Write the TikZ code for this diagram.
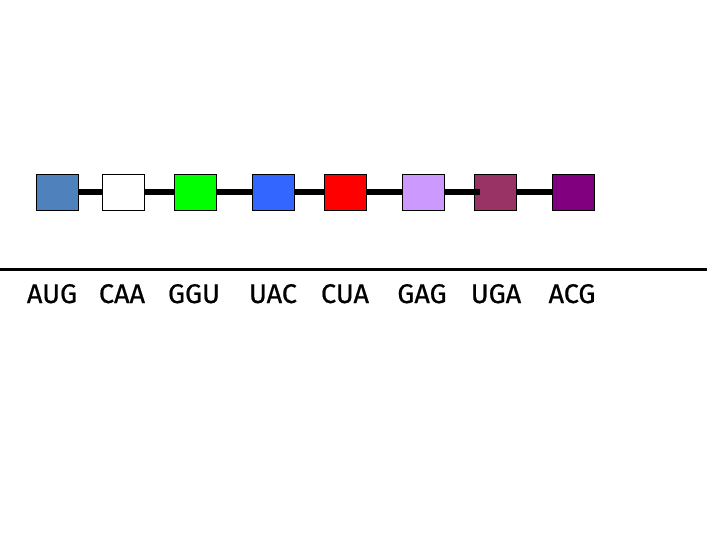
\documentclass[tikz,border=0pt]{standalone}
\usepackage{fontspec}
\setmainfont{Fira Sans}
\newfontfamily\codonfont[FakeBold=0.7]{Fira Sans}
\usepackage{tikz}
\usetikzlibrary{positioning, calc}
\usepackage{xcolor}
\definecolor{aaSteel}{RGB}{79,129,189}
\definecolor{aaGreen}{RGB}{0,255,0}
\definecolor{aaBlue}{RGB}{51,102,255}
\definecolor{aaRed}{RGB}{255,0,0}
\definecolor{aaLilac}{RGB}{204,153,255}
\definecolor{aaPlum}{RGB}{153,51,102}
\definecolor{aaPurple}{RGB}{128,0,128}

\begin{document}
\begin{tikzpicture}[x=1pt, y=-1pt,
    aminoacid/.style={rectangle, draw=black, line width=0.8pt, minimum width=42pt, minimum height=36pt, inner sep=0pt},
    peptide/.style={line width=6pt, black},
    codon/.style={anchor=base, inner sep=0pt, font=\codonfont\fontsize{27}{30}\selectfont}]
  \useasboundingbox (0,0) rectangle (720,540);

  \node[aminoacid, fill=aaSteel] (aa1) at (57.5,192.5) {};
  \node[aminoacid, fill=white] (aa2) at (123.5,192.5) {};
  \node[aminoacid, fill=aaGreen] (aa3) at (195.5,192.5) {};
  \node[aminoacid, fill=aaBlue] (aa4) at (273.5,192.5) {};
  \node[aminoacid, fill=aaRed] (aa5) at (345.5,192.5) {};
  \node[aminoacid, fill=aaLilac] (aa6) at (423.5,192.5) {};
  \node[aminoacid, fill=aaPlum] (aa7) at (495.5,192.5) {};
  \node[aminoacid, fill=aaPurple] (aa8) at (573.5,192.5) {};

  \draw[peptide] (aa1.east) -- (aa2.west);
  \draw[peptide] (aa2.east) -- (aa3.west);
  \draw[peptide] (aa3.east) -- (aa4.west);
  \draw[peptide] (aa4.east) -- (aa5.west);
  \draw[peptide] (aa5.east) -- (aa6.west);
  \draw[peptide] (aa6.east) -- ([xshift=6pt]aa7.west);
  \draw[peptide] (aa7.east) -- (aa8.west);

  \coordinate (mrnaL) at (0,269.5);
  \coordinate (mrnaR) at (707,269.5);
  \draw[line width=3.5pt] (mrnaL) -- (mrnaR);

  \node[codon] (cod1) at (52,303) {AUG};
  \node[codon] (cod2) at (122,303) {CAA};
  \node[codon] (cod3) at (194,303) {GGU};
  \node[codon] (cod4) at (273,303) {UAC};
  \node[codon] (cod5) at (345,303) {CUA};
  \node[codon] (cod6) at (422,303) {GAG};
  \node[codon] (cod7) at (496,303) {UGA};
  \node[codon] (cod8) at (572,303) {ACG};
\end{tikzpicture}
\end{document}
